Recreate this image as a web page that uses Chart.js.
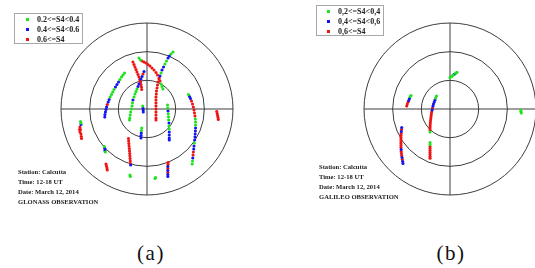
<!DOCTYPE html>
<html>
<head>
<meta charset="utf-8">
<script src="https://cdn.jsdelivr.net/npm/chart.js@4.4.1/dist/chart.umd.min.js"></script>
<style>
  html, body { margin:0; padding:0; width:535px; height:268px; overflow:hidden; background:#fff; }
  canvas { position:absolute; top:0; }
  #skyA { left:0; }
  #skyB { left:270px; }
  .legend { position:absolute; border:1px solid #a8a8a8; background:#fff; box-sizing:border-box; }
  .legend .row { position:absolute; left:0; font:bold 8px "Liberation Serif", serif; color:#222; white-space:nowrap; line-height:10px; height:10px; }
  .legend .dot { position:absolute; width:3px; height:3px; top:3.5px; }
  .legend .txt { position:absolute; top:0; }
  .note { position:absolute; font:bold 6.6px "Liberation Serif", serif; color:#222; line-height:9.9px; white-space:nowrap; }
  .cap { position:absolute; font:21px "Liberation Serif", serif; color:#111; letter-spacing:1.5px; line-height:20px; width:60px; text-align:center; }
</style>
</head>
<body>
<canvas id="skyA" width="270" height="230"></canvas>
<canvas id="skyB" width="270" height="230"></canvas>
<div id="legA" class="legend" style="left:14px;top:13px;width:69px;height:31px;"></div>
<div id="legB" class="legend" style="left:316px;top:5px;width:68px;height:31px;"></div>
<div id="noteA" class="note" style="left:18px;top:167px;"></div>
<div id="noteB" class="note" style="left:319px;top:162px;"></div>
<div class="cap" style="left:121px;top:243px;">(a)</div>
<div class="cap" style="left:421px;top:243px;">(b)</div>
<script>
// ---- DATA (sky coordinates: x = east, y = north, in degrees of zenith angle) ----
const elevationRings = [30, 60, 90];
const legendLabelsA = ['0.2<=S4<0.4', '0.4<=S4<0.6', '0.6<=S4'];
const legendLabelsB = ['0,2<=S4<0,4', '0,4<=S4<0,6', '0,6<=S4'];
const notesA = ['Station: Calcutta', 'Time: 12-18 UT', 'Date: March 12, 2014', 'GLONASS OBSERVATION'];
const notesB = ['Station: Calcutta', 'Time: 12-18 UT', 'Date: March 12, 2014', 'GALILEO OBSERVATION'];
const seriesColors = ['#1ee21e', '#1414ee', '#ee1414'];

const glonassLow = [
  [27.2,59.7],[25.1,57.6],[20.4,50.2],[18.8,47.1],[14.7,37.7],
  [-8.4,53.4],[-6.8,51.3],[14.7,26.2],[15.7,23.5],[16.7,20.9],
  [-10.5,20.9],[-11.5,18.3],[-12.6,15.7],[-13.6,12.6],[-15.2,6.3],[-15.7,3.1],[-16.4,0],[-17.1,-3.1],[-17.6,-6.3],[-18,-9.4],[-18.3,-11.5],
  [-23.5,37.7],[-25.1,35.6],[-26.7,33.5],[-28.3,30.9],[-34.5,20.4],[-35.9,17.8],[-37.2,15.2],[-38.5,12.6],
  [-4.5,3.1],
  [-5.5,-19.9],[-5.8,-22.5],
  [21.5,4.2],[21.7,1],[22.2,-5.2],[22.5,-8.4],[22.7,-11.5],[23,-17.8],[23.2,-20.9],
  [43.4,15.2],[50.6,-10.5],[50.8,-13.6],[50.8,-16.7],[49.5,-35.6],[47.6,-54.4],[47.3,-57.6],
  [-69.6,-13.1],[-69.1,-14.7],
  [-44.7,-39.2],[-43.6,-45],
  [-17.8,-69.1],[-17.5,-70.6],
  [8.4,-72.7],[8.9,-71.7]
];
const glonassMid = [
  [23.5,55.5],[22,53.4],[17.3,44],[15.7,40.8],[13.6,34.5],
  [-3.1,39.2],[-5.2,34],[-6.3,31.4],[-8.4,26.2],[-9.4,23.5],[-14.7,9.4],
  [-29.8,28.3],[-31.4,25.6],[-33,23],[-39.6,9.9],[-40.6,7.3],[-42.3,2.1],[-42.9,-0.5],[-43.5,-3.1],[-44,-5.8],[-44.2,-8.4],
  [-4.2,1],[-4,-1],[-3.9,-3.1],
  [-6,-25.1],[-6.2,-27.7],[-6.3,-30.3],
  [22,-2.1],[23,-14.7],[23.3,-24.1],[23.3,-27.2],[23.3,-30.3],[23.3,-32.4],
  [44.5,13.1],[45.5,11],[50.8,-19.9],[50.6,-23],[50.4,-26.2],[50.2,-29.3],[49.9,-32.4],[49.2,-38.7],[48.9,-41.9],[47.9,-51.3],
  [-69.1,-16.2],
  [-44.2,-41.3],[-44,-43.4],
  [-17.1,-58.6],
  [21.8,-60.2],[21.8,-64.4],[21.8,-68.5],[21.8,-70.6]
];
const glonassHigh = [
  [12.6,31.4],[11.5,28.3],[11,25.1],[10.5,22],[9.9,18.8],[9.7,15.7],[9.4,12.6],[9.4,9.4],[9.4,6.3],[9.4,3.1],[9.4,0],[9.4,-3.1],[9.4,-6.3],[9.4,-9.4],[9.4,-11.5],
  [-5.2,50.2],[-3.1,49.2],[-1,48.1],[1,46.6],[3.1,45],[5.2,42.9],[7.3,40.8],[9.4,38.2],[11,35.6],[12.6,32.4],[13.6,29.3],
  [-14.7,49.2],[-13.6,46.6],[-12.6,44],[-11.5,41.4],[-10.5,38.7],[-9.4,36.1],[-8.4,33.5],[-7.5,30.9],[-6.8,28.3],[-6.3,25.6],[-5.8,23],[-5.5,20.4],
  [-4.2,36.6],[-7.3,28.8],
  [-41.6,4.7],
  [46.6,8.4],[47.6,5.2],[48.5,2.1],[49.2,-1],[49.7,-4.2],[50.2,-7.3],[48.5,-45],[48.2,-48.1],
  [73,-2.6],[73.5,-4.7],[73.9,-6.8],[74.3,-8.9],[74.6,-11],
  [-70.2,-18.8],[-70.6,-21.5],[-69.6,-21.5],[-70.2,-24.1],[-69.1,-26.2],[-68.8,-28.8],[-68.5,-30.9],
  [-19.4,-30.9],[-19.2,-33.5],[-19,-36.1],[-18.8,-38.7],[-18.5,-41.3],[-18.3,-44],[-18.1,-46.6],[-17.9,-49.2],[-17.7,-51.8],[-17.5,-54.4],[-17.3,-57],
  [-42.9,-57.6],[-42.4,-59.7],[-41.9,-61.8],[-41.6,-63.8],
  [22,-56],[22,-58.1],[21.8,-62.3],[21.8,-66.4]
];

const galileoLow = [
  [0,32.8],[1.6,34],[3.1,35.4],[6,37.5],[7.3,38.3],
  [-41.6,13.1],[-40.8,14.1],
  [-14.1,13.6],[-15,11.5],[-20.9,-24.1],
  [-20.9,-35.1],[-20.9,-37.2],
  [74.1,-1],[74.3,-2.6],[74.5,-4.2]
];
const galileoMid = [
  [4.5,36.4],
  [-43.2,8.9],[-42.4,11],
  [-15.7,9.4],[-16.5,7.3],[-17.3,5.2],[-17.8,3.1],[-18.7,-1],
  [-50.5,-19.4],[-50.9,-23.5],[-51.1,-42.4],[-50.2,-50.8],[-49.5,-54.9],[-49.2,-57]
];
const galileoHigh = [
  [-45.3,3.1],[-44.7,5.2],[-43.9,7.3],
  [-18.3,1],[-19.2,-3.1],[-19.5,-5.2],[-19.8,-7.3],[-20,-9.4],[-20.3,-11.5],[-20.5,-13.6],[-20.7,-15.7],[-20.8,-17.8],[-20.9,-19.9],[-20.9,-22],
  [-20.9,-39.2],[-20.9,-41.3],[-20.9,-43.4],[-20.9,-45.5],[-20.9,-47.6],[-20.9,-49.7],[-20.9,-51.5],
  [-50.8,-21.5],[-51.1,-25.6],[-51.3,-27.7],[-51.3,-29.8],[-51.3,-31.9],[-51.3,-34],[-51.3,-36.1],[-51.3,-38.2],[-51.3,-40.3],[-51.1,-44.5],[-50.8,-46.6],[-50.6,-48.7],[-49.9,-52.8]
];

// ---- sky-plot grid drawn through the chart's own scales ----
const skyGrid = {
  id: 'skyGrid',
  beforeDatasetsDraw(chart) {
    const { ctx, scales: { x, y } } = chart;
    const cx = x.getPixelForValue(0), cy = y.getPixelForValue(0);
    const maxR = elevationRings[elevationRings.length - 1];
    ctx.save();
    ctx.strokeStyle = '#3c3c3c';
    ctx.lineWidth = 1;
    elevationRings.forEach(r => {
      const rp = x.getPixelForValue(r) - cx;
      ctx.beginPath();
      ctx.arc(cx, cy, rp, 0, Math.PI * 2);
      ctx.stroke();
    });
    ctx.beginPath();
    ctx.moveTo(x.getPixelForValue(-maxR), cy);
    ctx.lineTo(x.getPixelForValue(maxR), cy);
    ctx.moveTo(cx, y.getPixelForValue(maxR));
    ctx.lineTo(cx, y.getPixelForValue(-maxR));
    ctx.stroke();
    ctx.restore();
  }
};

function makeSky(id, series, labels, padding) {
  new Chart(document.getElementById(id), {
    type: 'scatter',
    data: {
      datasets: series.map((pts, i) => ({
        label: labels[i],
        data: pts.map(([px, py]) => ({ x: px, y: py })),
        backgroundColor: seriesColors[i],
        borderWidth: 0,
        pointRadius: 1.55,
        pointStyle: 'circle'
      }))
    },
    options: {
      responsive: false,
      animation: false,
      devicePixelRatio: 1,
      events: [],
      clip: false,
      layout: { padding },
      scales: {
        x: { type: 'linear', min: -90, max: 90, display: false },
        y: { type: 'linear', min: -90, max: 90, display: false }
      },
      plugins: { legend: { display: false }, tooltip: { enabled: false } }
    },
    plugins: [skyGrid]
  });
}

makeSky('skyA', [glonassLow, glonassMid, glonassHigh], legendLabelsA, { left: 61, right: 37, top: 23, bottom: 35 });
makeSky('skyB', [galileoLow, galileoMid, galileoHigh], legendLabelsB, { left: 94, right: 4, top: 23, bottom: 35 });

function buildLegend(id, labels, dotX, txtX) {
  const box = document.getElementById(id);
  labels.forEach((t, i) => {
    const row = document.createElement('div');
    row.className = 'row';
    row.style.top = (0.5 + i * 10.2) + 'px';
    const d = document.createElement('div');
    d.className = 'dot';
    d.style.left = dotX + 'px';
    d.style.background = seriesColors[i];
    const s = document.createElement('div');
    s.className = 'txt';
    s.style.left = txtX + 'px';
    s.textContent = t;
    row.appendChild(d); row.appendChild(s);
    box.appendChild(row);
  });
}
buildLegend('legA', legendLabelsA, 11, 22);
buildLegend('legB', legendLabelsB, 10, 21);

function buildNotes(id, lines) {
  const el = document.getElementById(id);
  lines.forEach(l => { const d = document.createElement('div'); d.textContent = l; el.appendChild(d); });
}
buildNotes('noteA', notesA);
buildNotes('noteB', notesB);
</script>
</body>
</html>
